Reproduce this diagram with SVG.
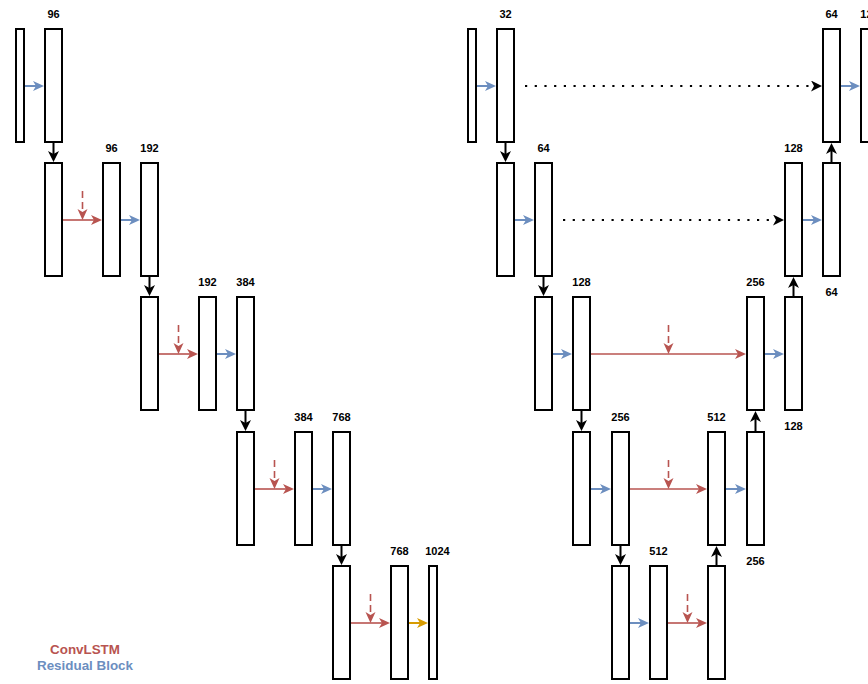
<svg xmlns="http://www.w3.org/2000/svg" width="868" height="684" viewBox="0 0 868 684">
  <defs>
    <style>
      .blk{fill:#ffffff;stroke:#000000;stroke-width:2}
      .lbl{font-family:"Liberation Sans",Arial,Helvetica,sans-serif;font-size:11px;font-weight:bold;fill:#000000;text-anchor:middle}
      .legend{font-family:"Liberation Sans",Arial,Helvetica,sans-serif;font-size:13.4px;font-weight:bold;text-anchor:middle}
      .c-down{stroke:#000000;stroke-width:2;fill:none;marker-end:url(#ah-black)}
      .c-res{stroke:#6c8ebf;stroke-width:2;fill:none;marker-end:url(#ah-blue)}
      .c-lstm{stroke:#b85450;stroke-width:1.6;fill:none;marker-end:url(#ah-red)}
      .c-state{stroke:#b85450;stroke-width:1.6;fill:none;stroke-dasharray:7 4;marker-end:url(#ah-red)}
      .c-out{stroke:#d79b00;stroke-width:2;fill:none;marker-end:url(#ah-orange)}
      .c-skip{stroke:#000000;stroke-width:2.2;fill:none;stroke-dasharray:2.2 7.5;marker-end:url(#ah-black)}
    </style>
    <marker id="ah-black" markerUnits="userSpaceOnUse" markerWidth="12" markerHeight="12" refX="3" refY="5.5" orient="auto">
      <path d="M0,0 L11,5.5 L0,11 L3,5.5 z" fill="#000000"/>
    </marker>
    <marker id="ah-blue" markerUnits="userSpaceOnUse" markerWidth="12" markerHeight="11" refX="3" refY="5" orient="auto">
      <path d="M0,0 L11,5 L0,10 L3,5 z" fill="#6c8ebf"/>
    </marker>
    <marker id="ah-red" markerUnits="userSpaceOnUse" markerWidth="12" markerHeight="11" refX="3" refY="5" orient="auto">
      <path d="M0,0 L11,5 L0,10 L3,5 z" fill="#b85450"/>
    </marker>
    <marker id="ah-orange" markerUnits="userSpaceOnUse" markerWidth="12" markerHeight="11" refX="3" refY="5" orient="auto">
      <path d="M0,0 L11,5 L0,10 L3,5 z" fill="#d79b00"/>
    </marker>
  </defs>

  <rect width="868" height="684" fill="#ffffff"/>

  <!-- encoder (left) -->
  <g id="l-input"><rect class="blk" x="16" y="29" width="8" height="113"/></g>
  <g id="l-1a"><rect class="blk" x="45" y="29" width="17" height="113"/><text class="lbl" x="53.5" y="18">96</text></g>

  <g id="l-2a"><rect class="blk" x="45" y="163" width="17" height="113"/></g>
  <g id="l-2b"><rect class="blk" x="103" y="163" width="17" height="113"/><text class="lbl" x="111.5" y="152">96</text></g>
  <g id="l-2c"><rect class="blk" x="141" y="163" width="17" height="113"/><text class="lbl" x="149.5" y="152">192</text></g>

  <g id="l-3a"><rect class="blk" x="141" y="297" width="17" height="113"/></g>
  <g id="l-3b"><rect class="blk" x="199" y="297" width="17" height="113"/><text class="lbl" x="207.5" y="286">192</text></g>
  <g id="l-3c"><rect class="blk" x="237" y="297" width="17" height="113"/><text class="lbl" x="245.5" y="286">384</text></g>

  <g id="l-4a"><rect class="blk" x="237" y="432" width="17" height="113"/></g>
  <g id="l-4b"><rect class="blk" x="295" y="432" width="17" height="113"/><text class="lbl" x="303.5" y="421">384</text></g>
  <g id="l-4c"><rect class="blk" x="333" y="432" width="17" height="113"/><text class="lbl" x="341.5" y="421">768</text></g>

  <g id="l-5a"><rect class="blk" x="333" y="566" width="17" height="113"/></g>
  <g id="l-5b"><rect class="blk" x="391" y="566" width="17" height="113"/><text class="lbl" x="399.5" y="555">768</text></g>
  <g id="l-5c"><rect class="blk" x="429" y="566" width="8" height="113"/><text class="lbl" x="437.5" y="555">1024</text></g>

  <!-- U-Net (right) -->
  <g id="r-input"><rect class="blk" x="468" y="29" width="8" height="113"/></g>
  <g id="r-1a"><rect class="blk" x="497" y="29" width="17" height="113"/><text class="lbl" x="505.5" y="18">32</text></g>
  <g id="r-1b"><rect class="blk" x="823" y="29" width="17" height="113"/><text class="lbl" x="831.5" y="18">64</text></g>
  <g id="r-1c"><rect class="blk" x="861" y="29" width="17" height="113"/><text class="lbl" x="869.5" y="18">128</text></g>

  <g id="r-2a"><rect class="blk" x="497" y="163" width="17" height="113"/></g>
  <g id="r-2b"><rect class="blk" x="535" y="163" width="17" height="113"/><text class="lbl" x="543.5" y="152">64</text></g>
  <g id="r-2c"><rect class="blk" x="785" y="163" width="17" height="113"/><text class="lbl" x="793.5" y="152">128</text></g>
  <g id="r-2d"><rect class="blk" x="823" y="163" width="17" height="113"/><text class="lbl" x="831.5" y="296">64</text></g>

  <g id="r-3a"><rect class="blk" x="535" y="297" width="17" height="113"/></g>
  <g id="r-3b"><rect class="blk" x="573" y="297" width="17" height="113"/><text class="lbl" x="581.5" y="286">128</text></g>
  <g id="r-3c"><rect class="blk" x="747" y="297" width="17" height="113"/><text class="lbl" x="755.5" y="286">256</text></g>
  <g id="r-3d"><rect class="blk" x="785" y="297" width="17" height="113"/><text class="lbl" x="793.5" y="430">128</text></g>

  <g id="r-4a"><rect class="blk" x="573" y="432" width="17" height="113"/></g>
  <g id="r-4b"><rect class="blk" x="612" y="432" width="17" height="113"/><text class="lbl" x="620.5" y="421">256</text></g>
  <g id="r-4c"><rect class="blk" x="708" y="432" width="17" height="113"/><text class="lbl" x="716.5" y="421">512</text></g>
  <g id="r-4d"><rect class="blk" x="747" y="432" width="17" height="113"/><text class="lbl" x="755.5" y="565">256</text></g>

  <g id="r-5a"><rect class="blk" x="612" y="566" width="17" height="113"/></g>
  <g id="r-5b"><rect class="blk" x="650" y="566" width="17" height="113"/><text class="lbl" x="658.5" y="555">512</text></g>
  <g id="r-5c"><rect class="blk" x="708" y="566" width="17" height="113"/></g>

  <!-- legend -->
  <g id="legend">
    <text class="legend" x="85" y="654" fill="#b85450">ConvLSTM</text>
    <text class="legend" x="85" y="670" fill="#6c8ebf">Residual Block</text>
  </g>

  <!-- connectors -->
  <g id="connectors">
    <!-- downsampling -->
    <line class="c-down" x1="53.5" y1="143" x2="53.5" y2="154"/>
    <line class="c-down" x1="149.5" y1="277" x2="149.5" y2="288"/>
    <line class="c-down" x1="245.5" y1="411" x2="245.5" y2="423"/>
    <line class="c-down" x1="341.5" y1="546" x2="341.5" y2="557"/>
    <line class="c-down" x1="505.5" y1="143" x2="505.5" y2="154"/>
    <line class="c-down" x1="543.5" y1="277" x2="543.5" y2="288"/>
    <line class="c-down" x1="581.5" y1="411" x2="581.5" y2="423"/>
    <line class="c-down" x1="620.5" y1="546" x2="620.5" y2="557"/>
    <!-- upsampling -->
    <line class="c-down" x1="716.5" y1="565" x2="716.5" y2="554"/>
    <line class="c-down" x1="755.5" y1="431" x2="755.5" y2="419"/>
    <line class="c-down" x1="793.5" y1="296" x2="793.5" y2="285"/>
    <line class="c-down" x1="831.5" y1="162" x2="831.5" y2="151"/>

    <!-- residual blocks -->
    <line class="c-res" x1="25" y1="86" x2="36" y2="86"/>
    <line class="c-res" x1="121" y1="220" x2="132" y2="220"/>
    <line class="c-res" x1="217" y1="354" x2="228" y2="354"/>
    <line class="c-res" x1="313" y1="489" x2="324" y2="489"/>
    <line class="c-res" x1="477" y1="86" x2="488" y2="86"/>
    <line class="c-res" x1="515" y1="220" x2="526" y2="220"/>
    <line class="c-res" x1="553" y1="354" x2="564" y2="354"/>
    <line class="c-res" x1="591" y1="489" x2="603" y2="489"/>
    <line class="c-res" x1="630" y1="623" x2="641" y2="623"/>
    <line class="c-res" x1="726" y1="489" x2="738" y2="489"/>
    <line class="c-res" x1="765" y1="354" x2="776" y2="354"/>
    <line class="c-res" x1="803" y1="220" x2="814" y2="220"/>
    <line class="c-res" x1="841" y1="86" x2="852" y2="86"/>

    <!-- ConvLSTM -->
    <line class="c-lstm" x1="63" y1="220" x2="94" y2="220"/>
    <line class="c-lstm" x1="159" y1="354" x2="190" y2="354"/>
    <line class="c-lstm" x1="255" y1="489" x2="286" y2="489"/>
    <line class="c-lstm" x1="351" y1="623" x2="382" y2="623"/>
    <line class="c-lstm" x1="591" y1="354" x2="738" y2="354"/>
    <line class="c-lstm" x1="630" y1="489" x2="699" y2="489"/>
    <line class="c-lstm" x1="668" y1="623" x2="699" y2="623"/>

    <!-- ConvLSTM state inputs -->
    <line class="c-state" x1="82.5" y1="191" x2="82.5" y2="212"/>
    <line class="c-state" x1="178.5" y1="325" x2="178.5" y2="346"/>
    <line class="c-state" x1="274.5" y1="460" x2="274.5" y2="481"/>
    <line class="c-state" x1="370.5" y1="594" x2="370.5" y2="615"/>
    <line class="c-state" x1="668.5" y1="325" x2="668.5" y2="346"/>
    <line class="c-state" x1="668.5" y1="460" x2="668.5" y2="481"/>
    <line class="c-state" x1="687.5" y1="594" x2="687.5" y2="615"/>

    <!-- output projection -->
    <line class="c-out" x1="409" y1="623" x2="420" y2="623"/>

    <!-- skip connections -->
    <line class="c-skip" x1="525" y1="86" x2="814" y2="86"/>
    <line class="c-skip" x1="563" y1="220" x2="776" y2="220"/>
  </g>
</svg>
